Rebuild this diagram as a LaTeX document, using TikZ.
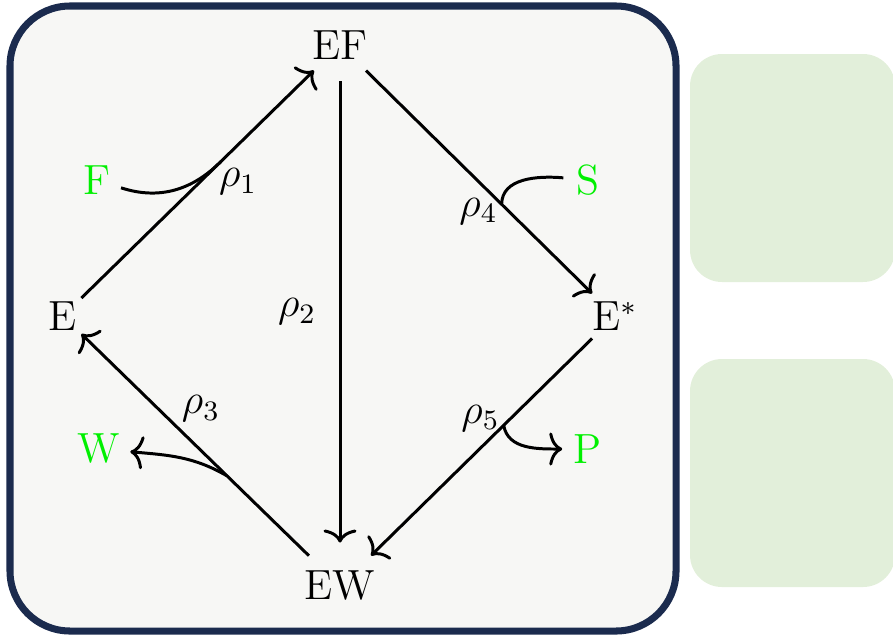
\documentclass[tikz,border=0pt]{standalone}
\usepackage{amsmath}
\usepackage{tikz}
\usepackage{xcolor}
\usetikzlibrary{arrows.meta,positioning,calc}
\definecolor{rcnavy}{HTML}{1B2B4E}
\definecolor{rcpanel}{HTML}{F7F7F5}
\definecolor{rcleaf}{HTML}{E2EFDA}
\definecolor{rcspecies}{HTML}{00F000}
\tikzset{
  rcstate/.style={circle, font=\large, inner sep=1pt},
  rcside/.style={rcstate, text=rcspecies},
  rcrate/.style={font=\large, inner sep=1pt},
  rcarrow/.style={-{Computer Modern Rightarrow[length=3.7pt,width=9.4pt]}, line width=0.85pt},
  rcbranch/.style={line width=0.85pt}
}

\begin{document}
\begin{tikzpicture}
\useasboundingbox (0,0) rectangle (8.93,-6.35);
\clip (0,0) rectangle (8.93,-6.35);
\fill[rcleaf, rounded corners=0.32cm] (6.90,-0.54) rectangle (8.95,-2.82);
\fill[rcleaf, rounded corners=0.32cm] (6.90,-3.59) rectangle (8.95,-5.87);
\draw[rcnavy, line width=2pt, fill=rcpanel, rounded corners=0.6cm] (0.10,-0.06) rectangle (6.76,-6.31);
\node[rcstate] (ef) at (3.40,-0.45) {EF};
\node[rcstate] (e) at (0.63,-3.16) {E};
\node[rcstate] (es) at (6.15,-3.16) {E$^*$};
\node[rcstate] (ew) at (3.40,-5.86) {EW};
\node[rcside] (f) at (0.97,-1.80) {F};
\node[rcside] (s) at (5.88,-1.80) {S};
\node[rcside] (w) at (0.99,-4.49) {W};
\node[rcside] (p) at (5.88,-4.49) {P};
\draw[rcarrow] (e) -- coordinate[pos=0.6] (j1) (ef);
\draw[rcarrow] (ef) -- node[rcrate, pos=0.5, left=0.19cm] (r2) {$\rho_2$} (ew);
\draw[rcarrow] (ef) -- coordinate[pos=0.6] (j4) (es);
\draw[rcarrow] (es) -- coordinate[pos=0.4] (j5) (ew);
\draw[rcarrow] (ew) -- coordinate[pos=0.36] (j3) node[rcrate, pos=0.58, anchor=south west] (r3) {$\rho_3$} (e);
\node[rcrate, anchor=north west, xshift=-0.06cm, yshift=-0.03cm] (r1) at (j1) {$\rho_1$};
\node[rcrate, anchor=east, yshift=-0.07cm] (r4) at (j4) {$\rho_4$};
\node[rcrate, anchor=east, yshift=0.07cm] (r5) at (j5) {$\rho_5$};
\draw[rcbranch] (f) to[out=-18, in=-135] (j1);
\draw[rcbranch] (s) to[out=175, in=90] (j4);
\draw[rcarrow] (j3) to[out=150, in=-5] (w);
\draw[rcarrow] (j5) to[out=-80, in=180] (p);
\end{tikzpicture}
\end{document}
